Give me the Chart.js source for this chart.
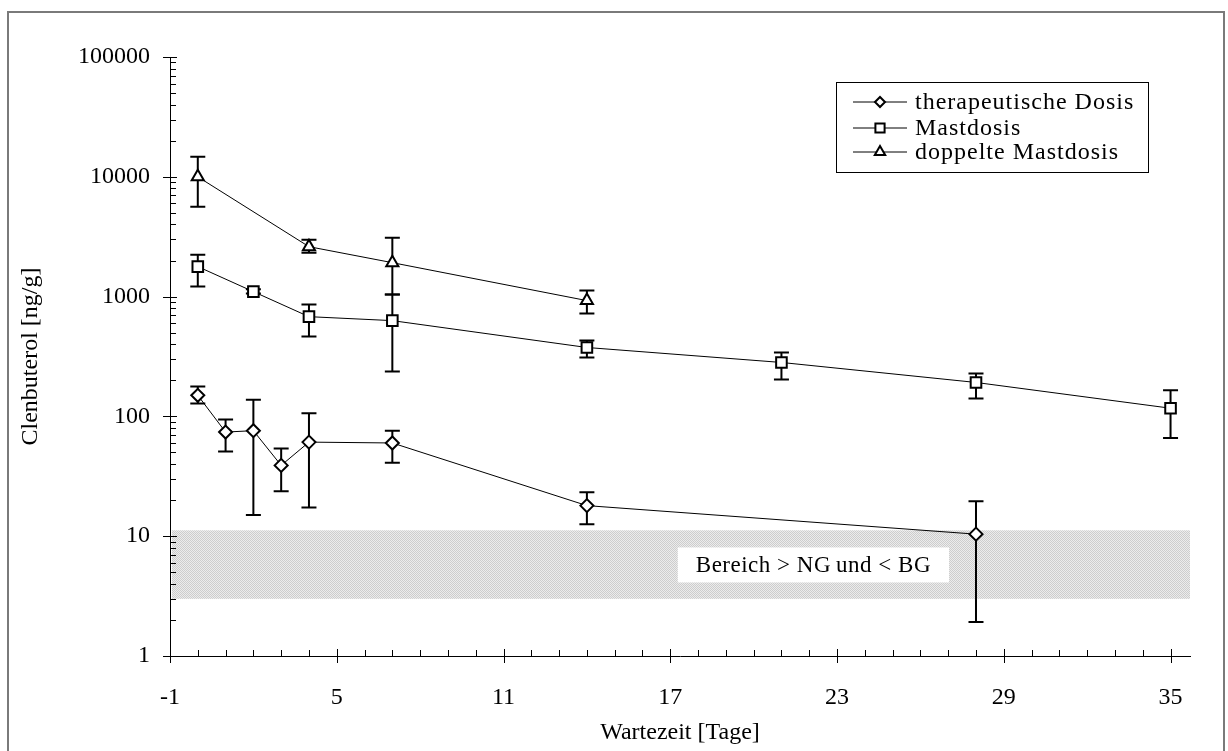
<!DOCTYPE html>
<html lang="de">
<head>
<meta charset="utf-8">
<title>Clenbuterol Wartezeit</title>
<script src="https://cdn.jsdelivr.net/npm/chart.js@4.4.1/dist/chart.umd.min.js"></script>
<style>
  html, body { margin: 0; padding: 0; background: #fff; }
  #wrap { width: 1228px; height: 751px; }
</style>
</head>
<body>
<div id="wrap"><canvas id="clenChart" width="1228" height="751"></canvas></div>
<script>
// therapeutische Dosis
var tageTher = [0, 1, 2, 3, 4, 7, 14, 28];
var werteTher = [150, 74, 76, 39, 61, 60, 18, 10.4];
var oberTher = [178, 94, 138, 54, 106, 76, 23.3, 19.6];
var unterTher = [128, 51, 15, 23.7, 17.4, 41, 12.6, 1.92];

// Mastdosis
var tageMast = [0, 2, 4, 7, 14, 21, 28, 35];
var werteMast = [1780, 1100, 680, 630, 376, 282, 192, 117];
var oberMast = [2240, 1150, 858, 1040, 430, 341, 228, 165];
var unterMast = [1212, 1060, 464, 237, 310, 203, 141, 66];

// doppelte Mastdosis
var tageDoppelt = [0, 4, 7, 14];
var werteDoppelt = [10000, 2610, 1920, 926];
var oberDoppelt = [14700, 2985, 3100, 1122];
var unterDoppelt = [5620, 2326, 1040, 722];

var xTicks = [-1, 5, 11, 17, 23, 29, 35];
var yTicks = [1, 10, 100, 1000, 10000, 100000];

// Bereich > NG und < BG
var bereichY = [3, 11.2];
var bereichX = [-1, 35.7];
var bereichText = 'Bereich > NG\u2009und < BG';

var schrift = '"Liberation Serif", "Times New Roman", serif';

function punkte(tage, werte) {
    return tage.map(function (t, i) { return { x: t, y: werte[i] }; });
}

// gepunktetes Grau fuer den Bereich
function rasterMuster(ctx) {
    var c = document.createElement('canvas');
    c.width = 2; c.height = 2;
    var p = c.getContext('2d');
    p.fillStyle = '#ececec';
    p.fillRect(0, 0, 2, 2);
    p.fillStyle = '#cdcdcd';
    p.fillRect(0, 0, 1, 1);
    p.fillRect(1, 1, 1, 1);
    return ctx.createPattern(c, 'repeat');
}

var fehlerListe = [
    { ober: oberTher, unter: unterTher },
    { ober: oberMast, unter: unterMast },
    { ober: oberDoppelt, unter: unterDoppelt }
];

var hintergrundPlugin = {
    id: 'hintergrund',
    beforeDatasetsDraw: function (chart) {
        var ctx = chart.ctx;
        var xs = chart.scales.x, ys = chart.scales.y;

        // Bereich
        var x1 = xs.getPixelForValue(bereichX[0]) + 2;
        var x2 = xs.getPixelForValue(bereichX[1]);
        var y1 = ys.getPixelForValue(bereichY[1]);
        var y2 = ys.getPixelForValue(bereichY[0]);
        ctx.save();
        ctx.fillStyle = rasterMuster(ctx);
        ctx.fillRect(x1, y1, x2 - x1, y2 - y1);

        // Beschriftung in weissem Kasten
        var mx = xs.getPixelForValue(22.15);
        var my = ys.getPixelForValue(5.7);
        ctx.font = '23px ' + schrift;
        ctx.letterSpacing = '0.5px';
        var w = ctx.measureText(bereichText).width;
        ctx.fillStyle = '#fff';
        ctx.fillRect(mx - w / 2 - 18, my - 18, w + 36, 35);
        ctx.fillStyle = '#000';
        ctx.textAlign = 'center';
        ctx.textBaseline = 'middle';
        ctx.fillText(bereichText, mx, my + 1);
        ctx.restore();

        // Fehlerbalken
        ctx.save();
        ctx.strokeStyle = '#000';
        ctx.lineWidth = 2;
        chart.data.datasets.forEach(function (ds, di) {
            var f = fehlerListe[di];
            ds.data.forEach(function (p, i) {
                var px = xs.getPixelForValue(p.x);
                var top = ys.getPixelForValue(f.ober[i]);
                var bot = ys.getPixelForValue(f.unter[i]);
                ctx.beginPath();
                ctx.moveTo(px, top); ctx.lineTo(px, bot);
                ctx.moveTo(px - 7.5, top); ctx.lineTo(px + 7.5, top);
                ctx.moveTo(px - 7.5, bot); ctx.lineTo(px + 7.5, bot);
                ctx.stroke();
            });
        });
        ctx.restore();
    }
};

// Haupt- und Nebenstriche der Achsen
var strichPlugin = {
    id: 'striche',
    afterDatasetsDraw: function (chart) {
        var ctx = chart.ctx;
        var xs = chart.scales.x, ys = chart.scales.y;
        var ax = xs.getPixelForValue(-1);
        var ay = ys.getPixelForValue(1);
        ctx.save();
        ctx.strokeStyle = '#000';
        ctx.lineWidth = 1;
        ctx.beginPath();
        yTicks.forEach(function (d, k) {
            var py = Math.round(ys.getPixelForValue(d)) + 0.5;
            ctx.moveTo(ax - 7, py); ctx.lineTo(ax + 7, py);
            if (k < yTicks.length - 1) {
                for (var m = 2; m <= 9; m++) {
                    var my = Math.round(ys.getPixelForValue(d * m)) + 0.5;
                    ctx.moveTo(ax, my); ctx.lineTo(ax + 6, my);
                }
            }
        });
        for (var t = -1; t <= 35; t++) {
            var px = Math.round(xs.getPixelForValue(t)) + 0.5;
            if (xTicks.indexOf(t) >= 0) {
                ctx.moveTo(px, ay - 7); ctx.lineTo(px, ay + 7);
            } else {
                ctx.moveTo(px, ay - 6); ctx.lineTo(px, ay);
            }
        }
        ctx.stroke();
        ctx.restore();
    }
};

var legendePlugin = {
    id: 'legende',
    afterDraw: function (chart) {
        var ctx = chart.ctx;
        var area = chart.chartArea;
        var bx = area.right - 354, by = area.top + 25;
        ctx.save();
        ctx.fillStyle = '#fff';
        ctx.fillRect(bx, by, 312, 90);
        ctx.strokeStyle = '#000';
        ctx.lineWidth = 1;
        ctx.strokeRect(bx + 0.5, by + 0.5, 312, 90);
        var stufen = [20, 46, 70];
        var radien = [5, 6.5, 6];
        chart.data.datasets.forEach(function (ds, i) {
            var y = by + stufen[i];
            ctx.strokeStyle = '#000';
            ctx.lineWidth = 1;
            ctx.beginPath();
            ctx.moveTo(bx + 17, y); ctx.lineTo(bx + 71, y);
            ctx.stroke();
            ctx.fillStyle = '#fff';
            ctx.lineWidth = 2;
            Chart.helpers.drawPoint(ctx, {
                pointStyle: ds.pointStyle, radius: radien[i], rotation: 0, borderWidth: 2
            }, bx + 44, y);
            ctx.fillStyle = '#000';
            ctx.font = '24px ' + schrift;
            ctx.letterSpacing = '1px';
            ctx.textAlign = 'left';
            ctx.textBaseline = 'middle';
            ctx.fillText(ds.label, bx + 79, y + 1);
        });
        ctx.restore();
    }
};

var rahmenPlugin = {
    id: 'rahmen',
    afterDraw: function (chart) {
        var ctx = chart.ctx;
        ctx.save();
        ctx.strokeStyle = '#7a7a7a';
        ctx.lineWidth = 2;
        ctx.strokeRect(8, 12, 1216, 760);
        ctx.restore();
    }
};

var gemeinsam = {
    borderColor: '#000',
    borderWidth: 1,
    pointBackgroundColor: '#fff',
    pointBorderColor: '#000',
    pointBorderWidth: 2,
    tension: 0
};

var ctx = document.getElementById('clenChart').getContext('2d');
var clenChart = new Chart(ctx, {
    type: 'line',
    data: {
        datasets: [
            Object.assign({ label: 'therapeutische Dosis', data: punkte(tageTher, werteTher), pointStyle: 'rectRot', pointRadius: 6.5 }, gemeinsam),
            Object.assign({ label: 'Mastdosis', data: punkte(tageMast, werteMast), pointStyle: 'rect', pointRadius: 7.5 }, gemeinsam),
            Object.assign({ label: 'doppelte Mastdosis', data: punkte(tageDoppelt, werteDoppelt), pointStyle: 'triangle', pointRadius: 7 }, gemeinsam)
        ]
    },
    plugins: [hintergrundPlugin, strichPlugin, legendePlugin, rahmenPlugin],
    options: {
        responsive: false,
        animation: false,
        events: [],
        layout: { padding: { left: 0, right: 38, top: 57, bottom: 0 } },
        plugins: {
            legend: { display: false },
            tooltip: { enabled: false }
        },
        scales: {
            x: {
                type: 'linear',
                min: -1,
                max: 35.7,
                afterBuildTicks: function (s) {
                    s.ticks = xTicks.map(function (v) { return { value: v }; });
                },
                afterFit: function (s) { s.height = 95; },
                grid: { display: false, drawTicks: false },
                border: { display: true, color: '#000', width: 1 },
                ticks: {
                    padding: 27,
                    color: '#000',
                    maxRotation: 0,
                    font: { family: schrift, size: 24 },
                    callback: function (v) { return String(v); }
                },
                title: {
                    display: true,
                    text: 'Wartezeit [Tage]',
                    color: '#000',
                    font: { family: schrift, size: 24 },
                    padding: { top: 0, bottom: 4 }
                }
            },
            y: {
                type: 'logarithmic',
                min: 1,
                max: 100000,
                afterBuildTicks: function (s) {
                    s.ticks = yTicks.map(function (v) { return { value: v }; });
                },
                afterFit: function (s) { s.width = 170; },
                grid: { display: false, drawTicks: false },
                border: { display: true, color: '#000', width: 1 },
                ticks: {
                    padding: 20,
                    color: '#000',
                    font: { family: schrift, size: 24 },
                    callback: function (v) { return String(v); }
                },
                title: {
                    display: true,
                    text: 'Clenbuterol [ng/g]',
                    color: '#000',
                    font: { family: schrift, size: 24 },
                    padding: { top: 16, bottom: 0 }
                }
            }
        }
    }
});
</script>
</body>
</html>
